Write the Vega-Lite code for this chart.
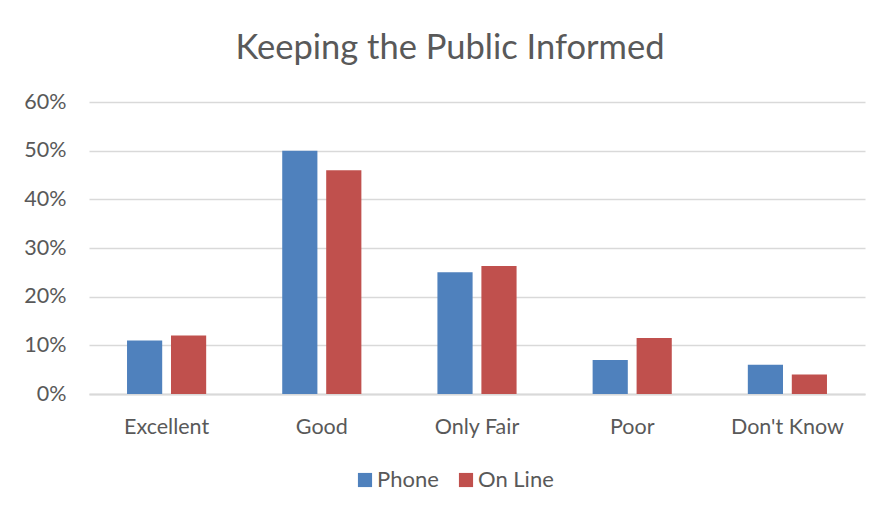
{
  "$schema": "https://vega.github.io/schema/vega-lite/v6.json",
  "width": 776,
  "height": 292,
  "autosize": {"type": "none"},
  "padding": {"left": 89, "top": 102, "right": 20, "bottom": 122},
  "background": "white",
  "title": {
    "text": "Keeping the Public Informed",
    "font": "Lato",
    "fontSize": 34.5,
    "fontWeight": "normal",
    "color": "#595959",
    "anchor": "middle",
    "dx": -27,
    "offset": 25
  },
  "data": {
    "values": [
      {"rating": "Excellent", "mode": "Phone", "pct": 0.11},
      {"rating": "Excellent", "mode": "On Line", "pct": 0.12},
      {"rating": "Good", "mode": "Phone", "pct": 0.50},
      {"rating": "Good", "mode": "On Line", "pct": 0.46},
      {"rating": "Only Fair", "mode": "Phone", "pct": 0.25},
      {"rating": "Only Fair", "mode": "On Line", "pct": 0.263},
      {"rating": "Poor", "mode": "Phone", "pct": 0.07},
      {"rating": "Poor", "mode": "On Line", "pct": 0.115},
      {"rating": "Don't Know", "mode": "Phone", "pct": 0.06},
      {"rating": "Don't Know", "mode": "On Line", "pct": 0.04}
    ]
  },
  "mark": {"type": "bar"},
  "encoding": {
    "x": {
      "field": "rating",
      "type": "nominal",
      "sort": ["Excellent", "Good", "Only Fair", "Poor", "Don't Know"],
      "scale": {"paddingInner": 0.49, "paddingOuter": 0.245},
      "axis": {
        "title": null,
        "labelAngle": 0,
        "labelFont": "Lato",
        "labelFontSize": 21.5,
        "labelColor": "#595959",
        "labelPadding": 22,
        "ticks": false,
        "domainColor": "#d9d9d9",
        "domainWidth": 2
      }
    },
    "xOffset": {
      "field": "mode",
      "type": "nominal",
      "sort": ["Phone", "On Line"],
      "scale": {"paddingInner": 0.2, "paddingOuter": 0}
    },
    "y": {
      "field": "pct",
      "type": "quantitative",
      "scale": {"domain": [0, 0.6], "nice": false},
      "axis": {
        "title": null,
        "format": ".0%",
        "values": [0, 0.1, 0.2, 0.3, 0.4, 0.5, 0.6],
        "labelFont": "Lato",
        "labelFontSize": 21.5,
        "labelColor": "#595959",
        "labelPadding": 23,
        "ticks": false,
        "domain": false,
        "gridColor": "#d9d9d9",
        "gridWidth": 1.5
      }
    },
    "color": {
      "field": "mode",
      "type": "nominal",
      "sort": ["Phone", "On Line"],
      "scale": {"domain": ["Phone", "On Line"], "range": ["#4F81BD", "#C0504D"]},
      "legend": {
        "title": null,
        "orient": "none",
        "direction": "horizontal",
        "legendX": 265,
        "legendY": 367,
        "symbolType": "square",
        "symbolSize": 200,
        "symbolStrokeWidth": 0,
        "labelFont": "Lato",
        "labelFontSize": 22,
        "labelColor": "#595959",
        "columnPadding": 16,
        "labelOffset": 1
      }
    }
  },
  "config": {
    "view": {"stroke": null}
  }
}
